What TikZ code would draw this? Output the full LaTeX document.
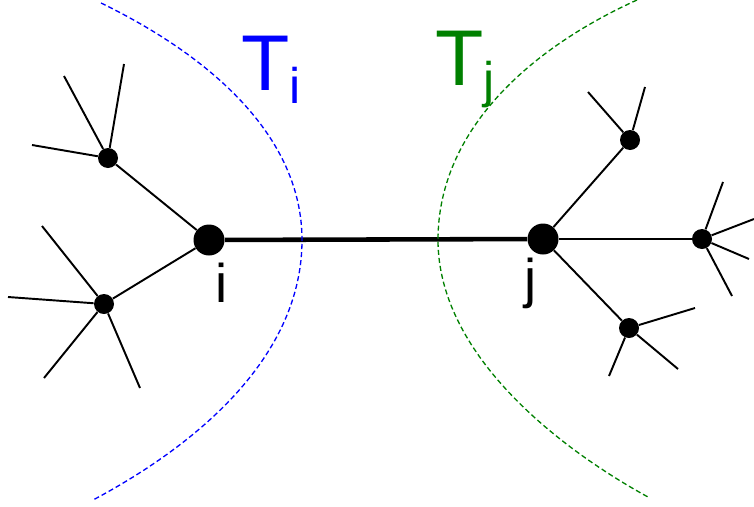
\documentclass[tikz,border=0pt]{standalone}
\usepackage{fontspec}
\setmainfont{Liberation Sans}

\begin{document}
\begin{tikzpicture}[
    bigdot/.style={circle, fill, inner sep=0pt, minimum size=0.62cm},
    smalldot/.style={circle, fill, inner sep=0pt, minimum size=0.4cm},
    edge/.style={line width=1.1pt},
    bridge/.style={line width=2.6pt},
    border/.style={line width=0.75pt, dash pattern=on 2.9pt off 1.7pt},
    vlabel/.style={font=\fontsize{31}{31}\selectfont, anchor=base, inner sep=0pt},
    tlabel/.style={font=\fontsize{45}{45}\selectfont, anchor=base west, inner sep=0pt}
]
\useasboundingbox (0,0) rectangle (15.08,10.12);

% Main edge
\node[bigdot] (i) at (4.18,5.32) {};
\node[bigdot] (j) at (10.86,5.34) {};
\draw[bridge] (i) -- (j);

\node[vlabel] (ilabel) at (4.44,4.08) {i};
\node[vlabel] (jlabel) at (10.62,4.18) {j};

% Left subtree
\node[smalldot] (a) at (2.16,6.96) {};
\node[smalldot] (b) at (2.08,4.04) {};
\coordinate (a1) at (1.28,8.60);
\coordinate (a2) at (2.48,8.84);
\coordinate (a3) at (0.64,7.22);
\coordinate (b1) at (0.84,5.60);
\coordinate (b2) at (0.16,4.18);
\coordinate (b3) at (0.88,2.56);
\coordinate (b4) at (2.80,2.36);

\draw[edge] (i) -- (a);
\draw[edge] (i) -- (b);
\foreach \t in {a1,a2,a3} \draw[edge] (a) -- (\t);
\foreach \t in {b1,b2,b3,b4} \draw[edge] (b) -- (\t);

% Right subtree
\node[smalldot] (c) at (12.60,7.32) {};
\node[smalldot] (d) at (14.04,5.34) {};
\node[smalldot] (e) at (12.58,3.56) {};
\coordinate (c1) at (11.76,8.28);
\coordinate (c2) at (12.90,8.38);
\coordinate (d1) at (14.46,6.48);
\coordinate (d2) at (15.08,5.74);
\coordinate (d3) at (14.98,4.94);
\coordinate (d4) at (14.64,4.20);
\coordinate (e1) at (13.90,3.96);
\coordinate (e2) at (13.56,2.74);
\coordinate (e3) at (12.18,2.60);

\draw[edge] (j) -- (c);
\draw[edge] (j) -- (d);
\draw[edge] (j) -- (e);
\foreach \t in {c1,c2} \draw[edge] (c) -- (\t);
\foreach \t in {d1,d2,d3,d4} \draw[edge] (d) -- (\t);
\foreach \t in {e1,e2,e3} \draw[edge] (e) -- (\t);

% Cuts
\draw[border, blue] (2.02,10.06) .. controls (4.2,9.0) and (6.04,7.4) .. (6.04,5.32)
    .. controls (6.04,3.04) and (4.04,1.28) .. (1.86,0.12);
\draw[border, green!50!black] (12.74,10.12) .. controls (10.45,9.08) and (8.76,7.42) .. (8.76,5.32)
    .. controls (8.76,3.07) and (11.1,1.2) .. (12.96,0.18);

\node[tlabel, text=blue] (Ti) at (4.82,8.32) {T\raisebox{-0.26cm}{\fontsize{28.5}{28.5}\selectfont i}};
\node[tlabel, text=green!50!black] (Tj) at (8.70,8.42) {T\raisebox{-0.25cm}{\fontsize{28.5}{28.5}\selectfont j}};

\end{tikzpicture}
\end{document}
